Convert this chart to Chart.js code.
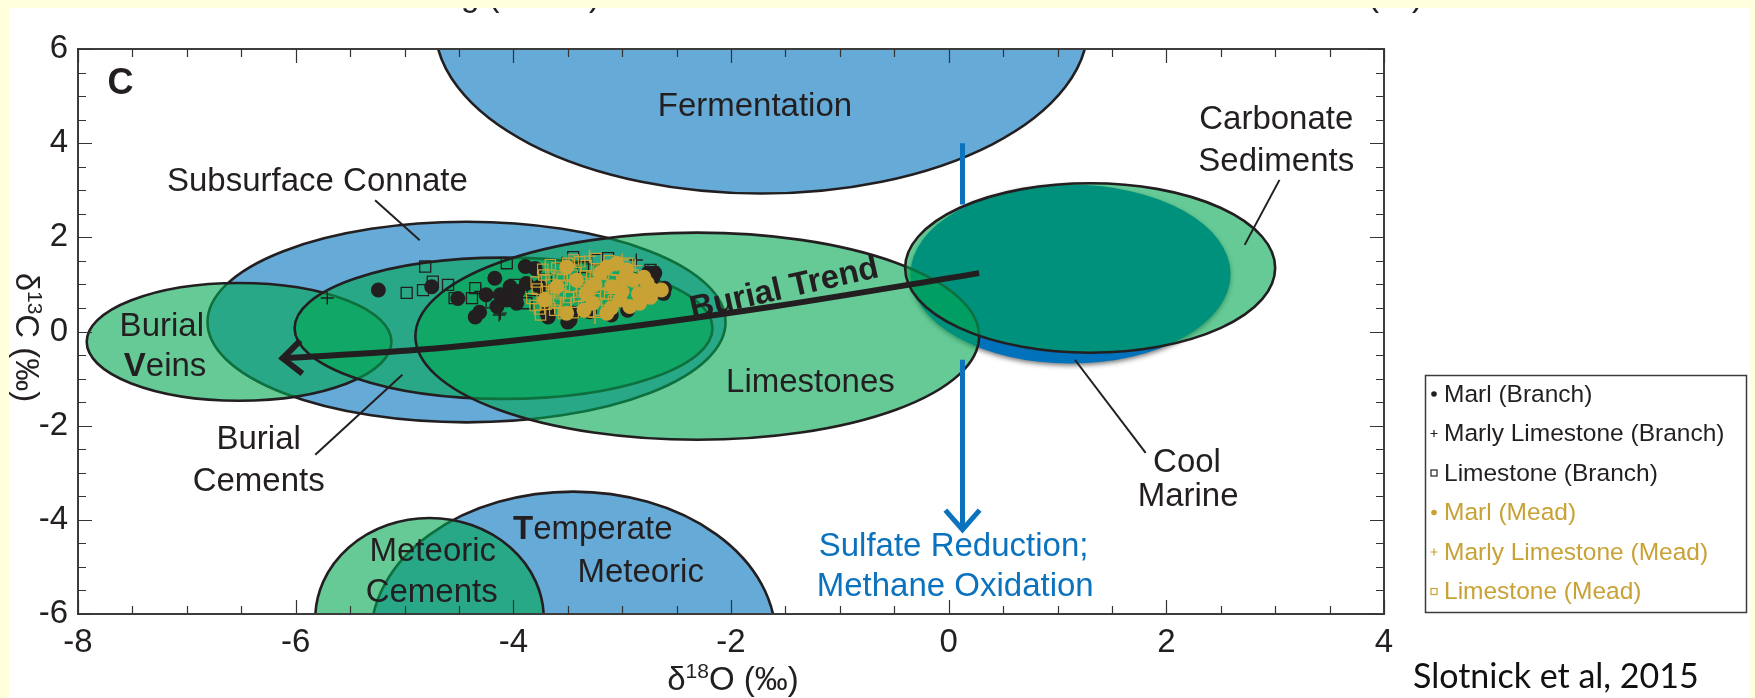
<!DOCTYPE html>
<html>
<head>
<meta charset="utf-8">
<script src="https://cdn.jsdelivr.net/npm/chart.js@4/dist/chart.umd.min.js"></script>
<style>
  html, body { margin: 0; padding: 0; background: #FFFFDD; }
  #c { display: block; }
</style>
</head>
<body>
<canvas id="c" width="1755" height="698"></canvas>
<script>
// ---- axis ranges and tick labels ----
const xRange = [-8, 4];
const yRange = [-6, 6];
const xTickStep = 2;
const yTickStep = 2;

// ---- isotope fields (centre and half-axes in per-mil units), drawn in this order ----
const fieldNames = ['Fermentation', 'Temperate Meteoric', 'Meteoric Cements', 'Subsurface Connate',
                    'Burial Veins', 'Burial Cements', 'Cool Marine', 'Limestones', 'Carbonate Sediments'];
const fieldCx = [-1.72, -3.45, -4.77, -4.43, -6.52, -4.09, 1.12, -2.31, 1.30];
const fieldCy = [ 6.50, -6.50, -6.10,  0.20, -0.22,  0.07, 1.22, -0.10, 1.35];
const fieldRx = [ 3.00,  1.86,  1.05,  2.38,  1.40,  1.92, 1.47,  2.59, 1.70];
const fieldRy = [ 3.57,  3.10,  2.14,  2.13,  1.25,  1.50, 1.90,  2.20, 1.80];

// ---- burial trend path (d18O, d13C) ----
const trendX = [-6.12, -4.88, -3.39, -1.64, 0.28];
const trendY = [-0.57, -0.39, -0.03, 0.52, 1.24];

// ---- sulfate reduction / methane oxidation arrow ----
const sulfateX = 0.127;
const sulfateUpperY = [4.0, 2.7];
const sulfateLowerY = [-0.6, -4.21];

// ---- sample data: Branch section ----
const marlBranch = [[-5.24,0.88],[-4.75,0.95],[-4.51,0.70],[-4.35,0.31],[-4.31,0.41],[-4.25,0.78],
  [-4.17,1.13],[-4.15,0.53],[-4.12,0.78],[-4.06,0.67],[-4.03,0.95],[-3.98,0.67],[-3.97,0.60],
  [-3.96,0.85],[-3.89,1.38],[-3.80,1.34],[-3.88,1.02],[-3.76,0.95],[-3.69,0.39],[-3.68,0.31],
  [-3.50,0.20],[-3.48,0.24],[-3.45,0.39],[-3.30,0.42],[-2.76,1.24],[-2.72,1.13],[-2.62,0.81],
  [-2.70,1.24],[-2.61,0.92],[-3.10,0.35],[-2.95,0.45]];
const marlyBranch = [[-5.71,0.71],[-4.12,0.39],[-4.13,0.35],[-2.87,1.52],[-3.55,1.45],[-4.30,0.85]];
const limeBranch = [[-4.98,0.82],[-4.81,1.38],[-4.83,0.88],[-4.74,1.06],[-4.60,0.99],[-4.54,0.71],
  [-4.38,0.71],[-4.35,0.92],[-4.06,1.45],[-3.99,0.99],[-3.82,0.88],[-3.88,0.60],[-3.45,1.58],
  [-3.23,1.52],[-3.13,1.56],[-2.72,1.26],[-2.76,0.88],[-3.36,1.37],[-2.74,1.31],[-4.20,0.62],[-3.70,1.10]];

// ---- sample data: Mead section ----
const marlMead = [[-3.51,0.39],[-3.71,0.67],[-3.14,0.39],[-3.05,1.45],[-2.93,0.53],[-2.64,0.88],
  [-2.84,0.60],[-3.20,1.24],[-3.33,0.81],[-3.09,0.95],[-2.90,1.09],[-2.77,1.03],[-3.51,1.37],
  [-3.42,1.09],[-3.02,0.67],[-3.27,0.60],[-2.74,0.73],[-3.14,1.37],[-2.96,1.31],[-3.60,0.95],
  [-2.72,0.88],[-3.00,0.85],[-3.25,1.00],[-2.85,0.80],[-3.10,0.50],[-2.80,1.15],[-3.35,0.45],[-2.98,1.12]];
const marlyMead = [[-3.30,1.60],[-3.00,1.52],[-2.88,1.40],[-3.62,0.50],[-3.25,0.30],[-3.70,1.20]];
const limeMead = [[-3.80,0.55],[-3.78,0.90],[-3.75,0.35],[-3.72,1.20],[-3.68,0.72],[-3.65,1.00],
  [-3.62,0.45],[-3.60,1.35],[-3.57,0.80],[-3.55,1.10],[-3.52,0.60],[-3.50,1.45],[-3.47,0.95],
  [-3.45,0.40],[-3.43,1.25],[-3.40,0.75],[-3.38,1.05],[-3.35,0.55],[-3.33,1.40],[-3.30,0.90],
  [-3.28,1.15],[-3.25,0.70],[-3.22,1.30],[-3.20,0.45],[-3.18,1.00],[-3.15,0.80],[-3.12,1.50],
  [-3.10,1.10],[-3.08,0.65],[-3.05,1.30],[-2.95,1.45],[-2.90,1.20],[-3.45,1.52],[-3.60,0.62],[-3.70,0.85],
  [-3.83,0.70],[-3.79,1.05],[-3.76,0.48],[-3.73,1.32],[-3.70,0.58],[-3.66,1.42],[-3.63,0.88],
  [-3.58,1.18],[-3.54,0.38],[-3.53,0.98],[-3.49,0.72],[-3.46,1.20],[-3.42,0.62],[-3.39,1.48],
  [-3.37,0.88],[-3.34,1.18],[-3.31,0.42],[-3.27,1.02],[-3.24,1.55],[-3.21,0.82],[-3.17,1.22],
  [-3.14,0.58],[-3.11,0.92],[-3.09,1.40],[-3.06,0.80]];

// ---- leader lines from labels to fields ----
const leaderFrom = [[-5.27, 2.79], [3.04, 3.22], [-5.82, -2.62], [1.81, -2.58]];
const leaderTo   = [[-4.86, 1.94], [2.72, 1.84], [-5.02, -0.92], [1.16, -0.60]];

// ---- field labels ----
const labelText = ['Fermentation', 'Subsurface Connate', 'Carbonate', 'Sediments', 'Burial', 'Veins',
  'Burial', 'Cements', 'Limestones', 'Cool', 'Marine', 'Meteoric', 'Cements', 'Temperate', 'Meteoric',
  'Sulfate Reduction;', 'Methane Oxidation'];
const labelX = [-1.78, -5.80, 3.01, 3.01, -7.23, -7.20, -6.34, -6.34, -1.27, 2.19, 2.20,
  -4.74, -4.75, -3.27, -2.83, 0.045, 0.06];
const labelY = [4.77, 3.17, 4.49, 3.60, 0.10, -0.75, -2.30, -3.19, -1.10, -2.80, -3.51,
  -4.68, -5.56, -4.22, -5.13, -4.57, -5.42];

// ---- look ----
const INK = '#231F20';
const GOLD = '#C8A235';
const ARROW_BLUE = '#0B72BD';
const FONT = '"Liberation Sans", Arial, Helvetica, sans-serif';
const BLUE_T = 'rgba(0,114,188,0.6)';
const GREEN_T = 'rgba(0,166,81,0.6)';
const fieldLook = {
  'Fermentation': { fill: BLUE_T, stroke: INK },
  'Temperate Meteoric': { fill: BLUE_T, stroke: INK },
  'Meteoric Cements': { fill: GREEN_T, stroke: INK },
  'Subsurface Connate': { fill: BLUE_T, stroke: INK },
  'Burial Veins': { fill: GREEN_T, stroke: INK },
  'Burial Cements': { fill: GREEN_T, stroke: INK },
  'Cool Marine': { fill: '#0072BC', stroke: null, shadow: true },
  'Limestones': { fill: GREEN_T, stroke: INK },
  'Carbonate Sediments': { fill: GREEN_T, stroke: INK }
};
const boldLead = { 'Veins': 1, 'Temperate': 1 };
const blueLabels = { 'Sulfate Reduction;': true, 'Methane Oxidation': true };

const pts = a => a.map(p => ({ x: p[0], y: p[1] }));

function lineSet(data, width, color, extra) {
  return Object.assign({
    data, showLine: true, pointRadius: 0, pointHoverRadius: 0, borderWidth: width,
    borderColor: color, backgroundColor: color, fill: false, borderCapStyle: 'butt', order: -1
  }, extra || {});
}

const datasets = [
  { label: 'Marl (Branch)', data: pts(marlBranch), pointStyle: 'circle', pointRadius: 7.5,
    backgroundColor: INK, borderColor: INK, borderWidth: 0, order: 3, mark: 'dot' },
  { label: 'Marly Limestone (Branch)', data: pts(marlyBranch), pointStyle: 'cross', pointRadius: 6.5,
    backgroundColor: INK, borderColor: INK, borderWidth: 1.4, order: 4, mark: 'plus' },
  { label: 'Limestone (Branch)', data: pts(limeBranch), pointStyle: 'rect', pointRadius: 7.8,
    backgroundColor: 'rgba(0,0,0,0)', borderColor: INK, borderWidth: 1.3, order: 5, mark: 'square' },
  { label: 'Marl (Mead)', data: pts(marlMead), pointStyle: 'circle', pointRadius: 7.5,
    backgroundColor: GOLD, borderColor: GOLD, borderWidth: 0, order: 0, mark: 'dot' },
  { label: 'Marly Limestone (Mead)', data: pts(marlyMead), pointStyle: 'cross', pointRadius: 6.5,
    backgroundColor: GOLD, borderColor: GOLD, borderWidth: 1.4, order: 1, mark: 'plus' },
  { label: 'Limestone (Mead)', data: pts(limeMead), pointStyle: 'rect', pointRadius: 7.3,
    backgroundColor: 'rgba(0,0,0,0)', borderColor: GOLD, borderWidth: 1.2, order: 2, mark: 'square' },
  lineSet(trendX.map((x, i) => ({ x, y: trendY[i] })), 6, INK,
    { tension: 0.4, cubicInterpolationMode: 'monotone', order: -2, arrowTail: true }),
  lineSet(sulfateUpperY.map(y => ({ x: sulfateX, y })), 5, ARROW_BLUE),
  lineSet(sulfateLowerY.map(y => ({ x: sulfateX, y })), 5, ARROW_BLUE, { arrowHead: true })
];
leaderFrom.forEach((f, i) => {
  datasets.push(lineSet([{ x: f[0], y: f[1] }, { x: leaderTo[i][0], y: leaderTo[i][1] }], 2, INK));
});

// page: white panel on a pale yellow slide, with the foot of the panel above peeking in
const pagePlugin = {
  id: 'page',
  beforeDraw(chart) {
    const ctx = chart.ctx;
    ctx.save();
    ctx.fillStyle = '#FFFFFF';
    ctx.fillRect(0, 0, chart.width, chart.height);
    ctx.fillStyle = INK;
    ctx.font = '33px ' + FONT;
    ctx.textBaseline = 'alphabetic';
    ctx.textAlign = 'left';
    ctx.fillText('g (', 461, 6);
    ctx.fillText(')', 589, 6);
    ctx.fillText('(\u2030)', 1368, 6);
    ctx.fillStyle = '#FFFFDD';
    ctx.fillRect(0, 0, chart.width, 8);
    ctx.fillRect(0, 0, 9, chart.height);
    ctx.fillRect(1750, 0, chart.width - 1750, chart.height);
    ctx.restore();
  }
};

function dataToPx(chart, x, y) {
  return [chart.scales.x.getPixelForValue(x), chart.scales.y.getPixelForValue(y)];
}

// transparent ellipse fields under the samples
const fieldsPlugin = {
  id: 'fields',
  beforeDatasetsDraw(chart) {
    const { ctx, chartArea: a, scales } = chart;
    ctx.save();
    ctx.beginPath();
    ctx.rect(a.left, a.top, a.right - a.left, a.bottom - a.top);
    ctx.clip();
    fieldNames.forEach((name, i) => {
      const look = fieldLook[name];
      const cx = scales.x.getPixelForValue(fieldCx[i]);
      const cy = scales.y.getPixelForValue(fieldCy[i]);
      const rx = Math.abs(scales.x.getPixelForValue(fieldCx[i] + fieldRx[i]) - cx);
      const ry = Math.abs(scales.y.getPixelForValue(fieldCy[i] + fieldRy[i]) - cy);
      ctx.beginPath();
      ctx.ellipse(cx, cy, rx, ry, 0, 0, Math.PI * 2);
      ctx.save();
      if (look.shadow) {
        ctx.shadowColor = 'rgba(0,0,0,0.55)';
        ctx.shadowBlur = 5;
        ctx.shadowOffsetY = 2;
      }
      ctx.fillStyle = look.fill;
      ctx.fill();
      ctx.restore();
      if (look.stroke) {
        ctx.lineWidth = 2.6;
        ctx.strokeStyle = look.stroke;
        ctx.stroke();
      }
    });
    ctx.restore();
  }
};

function chevron(ctx, tip, dir, len, spread, width, color) {
  const ang = Math.atan2(dir[1], dir[0]);
  ctx.save();
  ctx.strokeStyle = color;
  ctx.lineWidth = width;
  ctx.lineJoin = 'miter';
  ctx.lineCap = 'butt';
  ctx.beginPath();
  ctx.moveTo(tip[0] + len * Math.cos(ang + spread), tip[1] + len * Math.sin(ang + spread));
  ctx.lineTo(tip[0], tip[1]);
  ctx.lineTo(tip[0] + len * Math.cos(ang - spread), tip[1] + len * Math.sin(ang - spread));
  ctx.stroke();
  ctx.restore();
}

function drawMixed(ctx, text, x, y, lead, size, color) {
  const boldPart = text.slice(0, lead);
  const rest = text.slice(lead);
  ctx.font = 'bold ' + size + 'px ' + FONT;
  const wb = ctx.measureText(boldPart).width;
  ctx.font = size + 'px ' + FONT;
  const wr = ctx.measureText(rest).width;
  const sx = x - (wb + wr) / 2;
  ctx.textAlign = 'left';
  ctx.fillStyle = color;
  ctx.font = 'bold ' + size + 'px ' + FONT;
  ctx.fillText(boldPart, sx, y);
  ctx.font = size + 'px ' + FONT;
  ctx.fillText(rest, sx + wb, y);
}

function drawSupTitle(ctx, parts, cx, baseY) {
  const big = '33px ' + FONT, small = '21px ' + FONT;
  ctx.font = big; const w0 = ctx.measureText(parts[0]).width;
  ctx.font = small; const w1 = ctx.measureText(parts[1]).width;
  ctx.font = big; const w2 = ctx.measureText(parts[2]).width;
  let x = cx - (w0 + w1 + w2) / 2;
  ctx.textAlign = 'left';
  ctx.fillStyle = INK;
  ctx.font = big; ctx.fillText(parts[0], x, baseY); x += w0;
  ctx.font = small; ctx.fillText(parts[1], x, baseY - 12); x += w1;
  ctx.font = big; ctx.fillText(parts[2], x, baseY);
}

// frame, inward ticks, annotations and arrowheads
const overlayPlugin = {
  id: 'overlay',
  afterDatasetsDraw(chart) {
    const { ctx, chartArea: a, scales } = chart;
    ctx.save();

    chart.data.datasets.forEach(ds => {
      const d = ds.data;
      if (ds.arrowTail) {
        const tip = dataToPx(chart, d[0].x, d[0].y);
        const nxt = dataToPx(chart, d[1].x, d[1].y);
        chevron(ctx, tip, [nxt[0] - tip[0], nxt[1] - tip[1]], 25, 0.72, 6, ds.borderColor);
      }
      if (ds.arrowHead) {
        const n = d.length;
        const tip = dataToPx(chart, d[n - 1].x, d[n - 1].y);
        const prv = dataToPx(chart, d[n - 2].x, d[n - 2].y);
        chevron(ctx, tip, [prv[0] - tip[0], prv[1] - tip[1]], 26, 0.72, 5, ds.borderColor);
      }
    });

    // frame and inward ticks on all four sides
    ctx.strokeStyle = '#3C3C3C';
    ctx.lineWidth = 2;
    ctx.strokeRect(a.left, a.top, a.right - a.left, a.bottom - a.top);
    ctx.lineWidth = 1.2;
    ctx.strokeStyle = '#333333';
    ctx.beginPath();
    for (let v = xRange[0]; v <= xRange[1] + 1e-9; v += 0.5) {
      const p = Math.round(scales.x.getPixelForValue(v)) + 0.5;
      const len = (Math.abs(v % xTickStep) < 1e-9) ? 14 : 8;
      ctx.moveTo(p, a.top); ctx.lineTo(p, a.top + len);
      ctx.moveTo(p, a.bottom); ctx.lineTo(p, a.bottom - len);
    }
    for (let v = yRange[0]; v <= yRange[1] + 1e-9; v += 0.5) {
      const p = Math.round(scales.y.getPixelForValue(v)) + 0.5;
      const len = (Math.abs(v % yTickStep) < 1e-9) ? 14 : 8;
      ctx.moveTo(a.left, p); ctx.lineTo(a.left + len, p);
      ctx.moveTo(a.right, p); ctx.lineTo(a.right - len, p);
    }
    ctx.stroke();

    // panel letter
    ctx.fillStyle = INK;
    ctx.textBaseline = 'middle';
    ctx.textAlign = 'center';
    ctx.font = 'bold 36px ' + FONT;
    const c = dataToPx(chart, -7.61, 5.26);
    ctx.fillText('C', c[0], c[1]);

    // field labels
    labelText.forEach((t, i) => {
      const p = dataToPx(chart, labelX[i], labelY[i]);
      const color = blueLabels[t] ? ARROW_BLUE : INK;
      if (boldLead[t]) {
        drawMixed(ctx, t, p[0], p[1], boldLead[t], 33, color);
      } else {
        ctx.textAlign = 'center';
        ctx.fillStyle = color;
        ctx.font = '33px ' + FONT;
        ctx.fillText(t, p[0], p[1]);
      }
    });

    // trend label along the arrow
    const bt = dataToPx(chart, -1.51, 0.90);
    ctx.save();
    ctx.translate(bt[0], bt[1]);
    ctx.rotate(-12.8 * Math.PI / 180);
    ctx.textAlign = 'center';
    ctx.fillStyle = INK;
    ctx.font = 'bold 33px ' + FONT;
    ctx.fillText('Burial Trend', 0, 0);
    ctx.restore();

    ctx.restore();
  },
  afterDraw(chart) {
    const { ctx, chartArea: a } = chart;
    ctx.save();
    ctx.fillStyle = INK;
    ctx.textBaseline = 'alphabetic';

    // axis titles
    drawSupTitle(ctx, ['\u03B4', '18', 'O (\u2030)'], (a.left + a.right) / 2 + 2, 690);
    ctx.save();
    ctx.translate(16, (a.top + a.bottom) / 2 + 6);
    ctx.rotate(Math.PI / 2);
    drawSupTitle(ctx, ['\u03B4', '13', 'C (\u2030)'], 0, 0);
    ctx.restore();

    // legend
    const lx = 1425, ly = 375, lw = 321, lh = 237;
    ctx.fillStyle = '#FFFFFF';
    ctx.fillRect(lx, ly, lw, lh);
    ctx.strokeStyle = '#3C3C3C';
    ctx.lineWidth = 1.5;
    ctx.strokeRect(lx + 0.5, ly + 0.5, lw, lh);
    chart.data.datasets.filter(d => d.mark).forEach((ds, i) => {
      const y = ly + 19 + i * 39.5;
      const mx = lx + 9;
      const col = ds.borderColor;
      ctx.fillStyle = col; ctx.strokeStyle = col;
      if (ds.mark === 'dot') {
        ctx.beginPath(); ctx.arc(mx, y, 2.8, 0, Math.PI * 2); ctx.fill();
      } else if (ds.mark === 'plus') {
        ctx.lineWidth = 1.2;
        ctx.beginPath(); ctx.moveTo(mx - 3.5, y); ctx.lineTo(mx + 3.5, y);
        ctx.moveTo(mx, y - 3.5); ctx.lineTo(mx, y + 3.5); ctx.stroke();
      } else {
        ctx.lineWidth = 1.2;
        ctx.strokeRect(mx - 3, y - 3, 6, 6);
      }
      ctx.font = '24.5px ' + FONT;
      ctx.textAlign = 'left';
      ctx.textBaseline = 'middle';
      ctx.fillText(ds.label, lx + 19, y + 1);
    });

    // source note
    ctx.fillStyle = '#111111';
    ctx.font = '34px Lato, "Open Sans", sans-serif';
    ctx.textAlign = 'left';
    ctx.textBaseline = 'alphabetic';
    ctx.fillText('Slotnick et al, 2015', 1413, 688);
    ctx.restore();
  }
};

new Chart(document.getElementById('c'), {
  type: 'scatter',
  data: { datasets },
  options: {
    responsive: false,
    devicePixelRatio: 1,
    animation: false,
    events: [],
    layout: { padding: { left: 8, right: 371, top: 49, bottom: 0 } },
    plugins: { legend: { display: false }, tooltip: { enabled: false } },
    scales: {
      x: {
        type: 'linear', min: xRange[0], max: xRange[1],
        grid: { display: false, drawTicks: false }, border: { display: false },
        ticks: { stepSize: xTickStep, autoSkip: false, maxRotation: 0, padding: 9,
                 color: INK, font: { family: FONT, size: 33 } },
        afterFit: s => { s.height = 84; }
      },
      y: {
        type: 'linear', min: yRange[0], max: yRange[1],
        grid: { display: false, drawTicks: false }, border: { display: false },
        ticks: { stepSize: yTickStep, autoSkip: false, padding: 10,
                 color: INK, font: { family: FONT, size: 33 } },
        afterFit: s => { s.width = 70; }
      }
    }
  },
  plugins: [pagePlugin, fieldsPlugin, overlayPlugin]
});
</script>
</body>
</html>
